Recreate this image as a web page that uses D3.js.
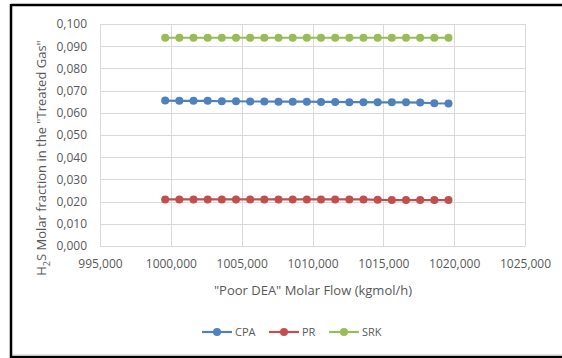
<!DOCTYPE html>
<html>
<head>
<meta charset="utf-8">
<script src="https://cdn.jsdelivr.net/npm/d3@7/dist/d3.min.js"></script>
<style>
  html, body { margin: 0; padding: 0; background: #fff; }
  svg { display: block; }
  text { font-family: "Open Sans", "Noto Sans", sans-serif; fill: #595959; }
</style>
</head>
<body>
<svg id="chart" width="562" height="358"></svg>
<script>
// Poor DEA molar flow (kgmol/h)
const flows = [999.6, 1000.6, 1001.6, 1002.6, 1003.6, 1004.6, 1005.6, 1006.6, 1007.6, 1008.6,
               1009.6, 1010.6, 1011.6, 1012.6, 1013.6, 1014.6, 1015.6, 1016.6, 1017.6, 1018.6, 1019.6];
// H2S molar fraction in the treated gas, per equation of state
const cpa = [0.0655, 0.0654, 0.0654, 0.0654, 0.0652, 0.0652, 0.0651, 0.0651, 0.0650, 0.0650,
             0.0650, 0.0649, 0.0649, 0.0648, 0.0648, 0.0647, 0.0647, 0.0647, 0.0646, 0.0643, 0.0642];
const pr  = [0.0210, 0.0210, 0.0210, 0.0210, 0.0210, 0.0210, 0.0210, 0.0210, 0.0210, 0.0210,
             0.0210, 0.0210, 0.0210, 0.0210, 0.0210, 0.0208, 0.0207, 0.0207, 0.0207, 0.0207, 0.0207];
const srk = [0.0938, 0.0938, 0.0938, 0.0938, 0.0938, 0.0938, 0.0938, 0.0938, 0.0938, 0.0938,
             0.0938, 0.0938, 0.0938, 0.0938, 0.0938, 0.0938, 0.0938, 0.0938, 0.0938, 0.0938, 0.0938];
const seriesNames = ["CPA", "PR", "SRK"];
const seriesColors = ["#4f81bd", "#c0504d", "#9bbb59"];
const xTicks = [995, 1000, 1005, 1010, 1015, 1020, 1025];
const yTicks = [0, 0.01, 0.02, 0.03, 0.04, 0.05, 0.06, 0.07, 0.08, 0.09, 0.10];

const series = [cpa, pr, srk].map((vals, i) => ({
  name: seriesNames[i], color: seriesColors[i],
  points: vals.map((v, j) => ({ x: flows[j], y: v }))
}));

const svg = d3.select("#chart");
const loc = d3.formatLocale({ decimal: ",", thousands: ".", grouping: [3], currency: ["", ""] });
const fmt = loc.format(".3f");

const plot = { left: 100, right: 525, top: 24, bottom: 246 };
const x = d3.scaleLinear().domain([995, 1025]).range([plot.left, plot.right]);
const y = d3.scaleLinear().domain([0, 0.1]).range([plot.bottom, plot.top]);

// outer frame
svg.append("line").attr("x1", 11).attr("x2", 562).attr("y1", 5).attr("y2", 5)
  .attr("stroke", "#000").attr("stroke-width", 2.5);
svg.append("line").attr("x1", 11).attr("x2", 11).attr("y1", 4).attr("y2", 358)
  .attr("stroke", "#000").attr("stroke-width", 2.5);
svg.append("line").attr("x1", 10).attr("x2", 562).attr("y1", 357).attr("y2", 357)
  .attr("stroke", "#000").attr("stroke-width", 2.5);
svg.append("line").attr("x1", 13).attr("x2", 562).attr("y1", 355).attr("y2", 355)
  .attr("stroke", "#c8c8c8").attr("stroke-width", 1);

// gridlines
const grid = svg.append("g");
grid.selectAll("line.h").data(yTicks).join("line")
  .attr("x1", plot.left).attr("x2", plot.right)
  .attr("y1", d => Math.round(y(d)) + 0.5).attr("y2", d => Math.round(y(d)) + 0.5)
  .attr("stroke", "#d9d9d9").attr("stroke-width", 1);
grid.selectAll("line.v").data(xTicks).join("line")
  .attr("y1", plot.top).attr("y2", plot.bottom)
  .attr("x1", d => Math.round(x(d)) + 0.5).attr("x2", d => Math.round(x(d)) + 0.5)
  .attr("stroke", "#d9d9d9").attr("stroke-width", 1);

// axes (labels only)
const yAxis = svg.append("g").attr("transform", `translate(${plot.left},0)`)
  .call(d3.axisLeft(y).tickValues(yTicks).tickFormat(fmt).tickSize(0).tickPadding(13));
const xAxis = svg.append("g").attr("transform", `translate(0,${plot.bottom})`)
  .call(d3.axisBottom(x).tickValues(xTicks).tickFormat(fmt).tickSize(0).tickPadding(13));
[yAxis, xAxis].forEach(a => {
  a.select(".domain").remove();
  a.selectAll("text").style("font-family", '"Open Sans", sans-serif')
    .style("font-size", "12px").attr("fill", "#595959");
});

// series lines and markers
const line = d3.line().x(d => x(d.x)).y(d => y(d.y));
series.forEach(s => {
  svg.append("path").datum(s.points).attr("d", line)
    .attr("fill", "none").attr("stroke", s.color).attr("stroke-width", 2.2);
  svg.append("g").selectAll("circle").data(s.points).join("circle")
    .attr("cx", d => x(d.x)).attr("cy", d => y(d.y)).attr("r", 4)
    .attr("fill", s.color);
});

// axis titles
const yt = svg.append("text")
  .attr("transform", "translate(46,158) rotate(-90)")
  .attr("text-anchor", "middle").style("font-size", "13px");
yt.append("tspan").text("H");
yt.append("tspan").text("2").attr("dy", 4).style("font-size", "9px");
yt.append("tspan").text("S Molar fraction in the \"Treated Gas\"").attr("dy", -4);

svg.append("text").attr("x", 313).attr("y", 295).attr("text-anchor", "middle")
  .style("font-size", "13px").text("\"Poor DEA\" Molar Flow (kgmol/h)");

// legend
const legendX = [202, 269, 329];
const lg = svg.append("g");
series.forEach((s, i) => {
  const g = lg.append("g").attr("transform", `translate(${legendX[i]},332)`);
  g.append("line").attr("x1", 0).attr("x2", 30).attr("stroke", s.color).attr("stroke-width", 2.2);
  g.append("circle").attr("cx", 15).attr("r", 4).attr("fill", s.color);
  g.append("text").attr("x", 33).attr("dy", "0.35em").style("font-size", "11px").text(s.name);
});
</script>
</body>
</html>
